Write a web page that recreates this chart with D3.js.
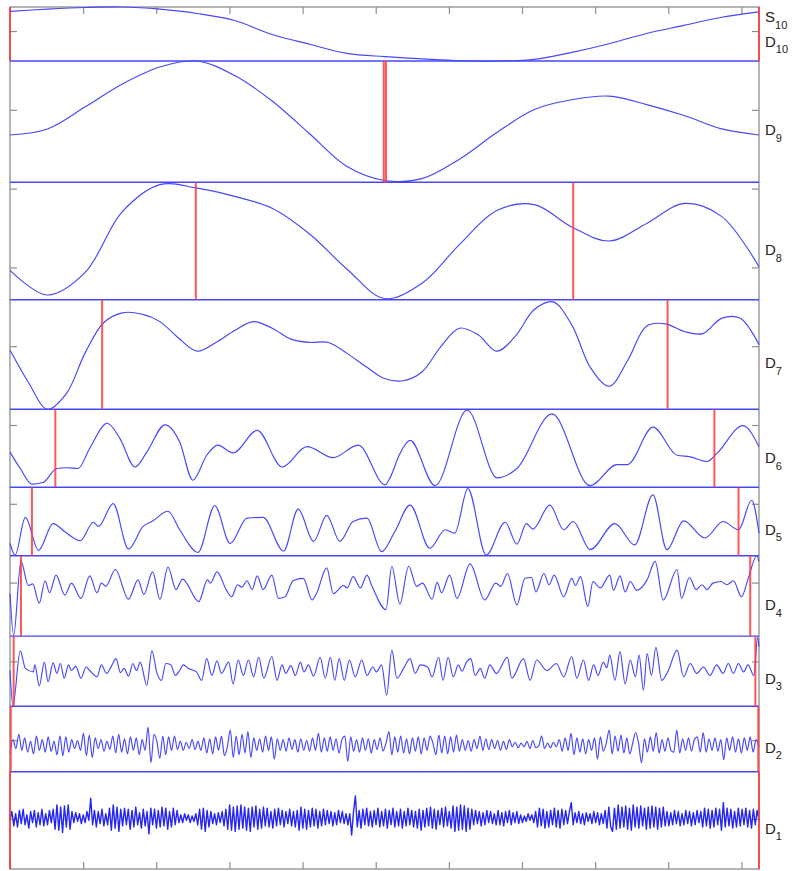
<!DOCTYPE html>
<html lang="en">
<head>
<meta charset="UTF-8">
<title>Wavelet decomposition</title>
<script src="https://d3js.org/d3.v7.min.js"></script>
<style>
  body { margin: 0; background: #fff; }
  .lbl { font-family: "Liberation Sans", Arial, sans-serif; font-size: 15px; fill: #222; }
  .lbl tspan { font-size: 11px; fill: #222; }
</style>
</head>
<body>
<svg id="chart" width="793" height="871"></svg>
<script>
// ---- data ----
// sample index axis runs 0..1024; panels listed top to bottom
const s10Vals = [.92,.96,.99,1.0,.96,.88,.75,.49,.31,.14,.08,.04,.005,0,.03,.16,.32,.51,.66,.81,.91];
const d9Vals  = [.39,.44,.62,.81,.95,1.0,.88,.67,.40,.13,.015,.03,.19,.41,.60,.68,.71,.64,.55,.44,.39];
const d8Vals  = [.25,.04,.23,.75,.98,.95,.88,.78,.56,.26,.01,.14,.47,.76,.81,.62,.50,.65,.82,.71,.28];
const d7Vals  = [.54,.24,0,.14,.51,.79,.88,.87,.80,.65,.53,.61,.72,.80,.74,.64,.61,.61,.51,.39,.28,.26,.34,.57,.74,.68,.53,.67,.91,.98,.77,.38,.21,.45,.76,.78,.71,.69,.83,.83,.59];

const d6X = [0,14,30,45,64,78,93,109,133,150,171,187,212,232,250,269,284,305,338,372,406,442,476,513,520,533,547,581,625,666,693,741,793,830,844,879,912,930,953,967,1002,1024];
const d6Vals = [.45,.24,.04,.06,.24,.25,.24,.5,.82,.63,.26,.45,.8,.58,.09,.41,.54,.44,.73,.26,.52,.38,.54,.03,.13,.43,.6,.02,.99,.12,.24,.94,.02,.29,.29,.77,.41,.39,.33,.44,.79,.52];

const d5X = [0,7,21,39,59,75,96,114,121,141,162,182,194,216,232,257,280,301,324,346,374,394,415,433,451,469,488,508,526,547,574,595,608,626,651,677,693,706,715,738,757,770,793,827,854,879,898,921,950,975,996,1014,1024];
const d5Vals = [.18,.01,.56,.08,.47,.35,.22,.49,.43,.76,.1,.43,.5,.65,.38,.05,.73,.18,.55,.56,.07,.68,.21,.59,.21,.5,.55,.06,.35,.74,.11,.38,.33,.98,.01,.49,.17,.47,.39,.74,.38,.5,.09,.47,.16,.89,.09,.51,.26,.5,.38,.81,.33];

const d4X = [0,5,15,25,31,40,48,54,63,75,84,97,109,119,125,131,144,162,175,183,195,205,216,227,236,258,270,274,283,296,303,311,317,324,331,338,346,358,367,376,387,401,413,419,433,442,456,461,469,479,488,495,514,522,533,545,556,564,577,584,590,601,611,629,649,664,671,680,693,704,713,719,730,737,744,757,768,773,780,790,797,807,820,825,834,841,848,857,871,882,893,912,918,929,938,946,953,961,972,980,989,1000,1009,1021,1024];
const d4Vals = [.53,.01,.93,.63,.65,.41,.69,.54,.76,.51,.66,.47,.75,.54,.66,.62,.83,.46,.7,.52,.8,.46,.86,.58,.71,.43,.7,.66,.8,.57,.49,.64,.61,.69,.58,.75,.58,.76,.47,.49,.69,.72,.45,.53,.85,.53,.63,.6,.74,.6,.76,.62,.33,.87,.4,.87,.62,.66,.46,.67,.54,.76,.47,.9,.45,.66,.62,.78,.39,.72,.73,.55,.78,.64,.76,.49,.72,.63,.74,.37,.68,.6,.76,.57,.75,.55,.68,.57,.7,.93,.45,.83,.47,.73,.58,.64,.58,.66,.68,.64,.69,.49,.71,1.0,.93];

const d3X = [0,4,14,21,32,34,40,47,52,59,64,69,74,80,84,90,97,104,109,119,125,132,139,145,151,156,162,168,173,178,187,194,201,207,213,220,226,232,237,244,255,262,269,276,283,289,299,305,312,319,326,333,340,347,358,365,372,377,384,390,397,402,408,415,424,431,438,444,450,457,464,472,481,488,496,501,508,515,522,
  529,538,547,554,561,571,577,586,592,599,606,613,618,624,630,636,643,649,656,665,680,686,702,711,720,734,747,757,768,775,784,791,798,804,811,816,820,827,834,841,848,855,860,866,871,877,883,891,900,912,921,930,939,948,957,966,975,982,989,996,1003,1009,1017,1022,1024];
const d3Vals = [.51,.01,.79,.54,.49,.59,.29,.63,.35,.62,.47,.61,.4,.59,.51,.57,.4,.56,.51,.42,.59,.47,.58,.68,.48,.54,.43,.61,.51,.63,.3,.79,.47,.37,.61,.59,.44,.51,.59,.54,.49,.37,.68,.44,.65,.47,.63,.32,.66,.44,.66,.42,.7,.4,.71,.37,.59,.47,.58,.44,.63,.49,.59,.43,.7,.4,.7,.37,.68,.37,.66,.42,.66,.44,.56,.49,.59,.16,.8,
  .4,.54,.68,.47,.59,.56,.42,.7,.37,.7,.42,.59,.5,.63,.68,.44,.54,.4,.59,.47,.7,.4,.68,.37,.66,.51,.61,.42,.71,.4,.66,.37,.59,.44,.63,.55,.73,.37,.78,.32,.66,.42,.73,.23,.75,.44,.84,.37,.51,.8,.42,.61,.47,.56,.44,.59,.47,.61,.47,.61,.49,.59,.44,.98,.85];

const d2Vals = [-0.5,0.3,-0.2,0.6,
  -0.3,0.4,-0.4,0.2,-0.5,0.5,-0.3,0.3,-0.4,0.45,-0.35,0.2,
  -0.55,0.5,-0.6,0.45,-0.4, 0.3,-0.2,0.25,-0.3, 0.65,-0.6,0.55,-0.7,0.4,
  -0.2,0.3,-0.35,0.2,-0.25, 0.5,-0.45,0.6,-0.4, 0.35,-0.5,0.45,-0.3,0.4,-0.55,0.3,
  -0.3,1.0,-1.0, 0.6,0.2,-0.75,0.5,-0.55,0.45,-0.3,0.5,
  -0.25,0.2,-0.3,0.15,-0.2,0.3,-0.25,0.2,-0.3, 0.4,-0.45,0.35,-0.5,0.45,-0.3,
  0.5,-0.6,-0.1,0.83,-0.7,0.5,-0.55,0.6,-0.45, 0.75,-0.7,0.4,-0.3,
  0.35,-0.4,0.5,-0.3,0.45,-0.8,0.35,-0.3,
  0.3,-0.35,0.4,-0.25,0.3,-0.4,0.35,-0.3,0.25,-0.35,0.4,-0.3, 0.65,-0.4,
  0.4,-0.35,0.45,-0.3,0.35,-0.45,0.3,0.5,-0.93,
  0.45,-0.35,0.3,-0.4,0.4,-0.3,0.35,-0.45,0.3,-0.25,0.4,-0.35, 0.1,0.75,-0.55,
  0.45,-0.4,0.5,-0.45,0.35,-0.5,0.4,-0.35,0.45,-0.5,0.4,-0.3,
  0.5,0.1,-0.55,0.55,-0.45,0.5,-0.5,0.45,-0.4,0.55,-0.35,
  0.3,-0.3,0.25,-0.35,0.3,-0.2, 0.5,
  -0.3,0.35,-0.25,0.3,-0.2,0.25,-0.3,0.2,-0.25,0.3, -0.1,0.15,-0.15,0.1,-0.1,
  0.2,-0.2,0.25,-0.15,-0.05,0.5,-0.2, 0.1,-0.15,0.15,-0.1, 0.3,-0.35,0.4,-0.3,0.65,
  -0.55,0.4,-0.4,0.35,-0.5,0.3, -0.3,0.4,-0.8,0.45,-0.35, 0.1,0.83,-0.5,0.5,-0.35,
  0.55,-0.45,0.4,-0.5,0.1, 0.7,0.1,-1.0,0.35, -0.4,0.45,-0.35,0.7,-0.45,0.3,
  -0.35,0.4,-0.3,-0.4,0.83, -0.45,0.35,-0.3,0.4,-0.35,0.3,0.45,-0.4, 0.7,
  -0.4,0.35,-0.3,0.4,-0.35, 0.3,-0.83,0.4,-0.3,
  0.45,-0.4,0.35,-0.45,0.4,-0.3,0.45,-0.4,0.3,-0.1];

const d1Vals = [
  -0.1,0.3,-0.35,0.2,-0.4,0.35,-0.25,0.4,-0.3,0.15,-0.45,0.3,-0.2,0.35,-0.4,0.25,-0.3,0.4,-0.35,0.2,
  -0.3,0.35,-0.2,0.4,-0.5,0.6,-0.55,0.5,-0.65,0.55,-0.4,0.6,-0.5,0.3,-0.2,0.25,-0.15,0.2,-0.25,0.15,
  -0.2,0.3,-0.1,0.9,-0.3,0.35,-0.4,0.3,-0.25,0.4,-0.35,0.2,-0.3,0.45,-0.55,0.6,-0.45,0.5,-0.6,0.4,
  -0.35,0.45,-0.3,0.4,-0.5,0.35,-0.4,0.5,-0.3,0.25,-0.45,0.4,-0.35,0.3,-0.71,0.45,-0.3,0.4,-0.45,0.35,
  -0.4,0.5,-0.35,0.45,-0.5,0.3,-0.4,0.45,-0.3,0.35,-0.2,0.15,-0.2,0.2,-0.1,0.15,-0.2,0.1,-0.15,0.2,
  -0.3,0.4,-0.5,0.45,-0.6,0.35,-0.4,0.3,-0.25,0.2,-0.3,0.25,-0.2,0.3,-0.35,0.4,-0.5,0.6,-0.55,0.5,
  -0.6,0.55,-0.5,0.6,-0.45,0.5,-0.55,0.45,-0.6,0.5,-0.4,0.55,-0.5,0.4,-0.45,0.5,-0.35,0.45,-0.4,0.3,
  -0.45,0.4,-0.35,0.45,-0.3,0.35,-0.4,0.3,-0.25,0.4,-0.35,0.3,-0.4,0.35,-0.55,0.5,-0.45,0.4,-0.5,0.35,
  -0.4,0.45,-0.35,0.4,-0.45,0.3,-0.35,0.4,-0.3,0.35,-0.25,0.3,-0.35,0.25,-0.3,0.35,-0.2,0.3,-0.25,0.2,
  -0.3,0.2,-0.76,0.3,1.0,-0.4,0.35,-0.45,0.4,-0.3,0.45,-0.35,0.3,-0.4,0.35,-0.3,0.45,-0.4,0.3,-0.35,
  0.4,-0.45,0.35,-0.3,0.45,-0.4,0.3,-0.35,0.4,-0.45,0.3,-0.35,0.45,-0.3,0.35,-0.4,0.3,-0.45,0.4,-0.55,
  0.35,-0.4,0.45,-0.35,0.5,-0.45,0.4,-0.5,0.35,-0.3,0.45,-0.4,0.5,-0.35,0.3,-0.45,0.55,-0.6,0.5,-0.55,
  0.6,-0.5,0.55,-0.6,0.45,-0.5,0.4,-0.3,0.35,-0.25,0.3,-0.35,0.25,-0.3,0.35,-0.2,0.3,-0.25,0.2,-0.3,
  0.35,-0.3,0.25,-0.35,0.3,-0.2,0.35,-0.3,0.25,-0.2,0.3,-0.25,0.15,-0.2,0.1,-0.15,0.2,-0.1,0.15,-0.2,
  0.3,-0.4,0.45,-0.35,0.4,-0.45,0.3,-0.4,0.35,-0.3,0.45,-0.4,0.35,-0.45,0.4,-0.3,0.35,-0.25,0.3,0.7,
  -0.3,0.25,-0.2,0.3,-0.25,0.2,-0.3,0.25,-0.15,0.2,-0.25,0.3,-0.2,0.25,-0.3,0.2,-0.25,0.35,-0.45,0.5,
  -0.4,-0.6,0.45,-0.5,0.6,-0.45,0.5,-0.4,0.55,-0.5,0.45,-0.55,0.6,-0.4,0.5,-0.45,0.55,-0.35,0.45,-0.5,
  0.5,-0.45,0.55,-0.4,0.5,-0.5,0.45,-0.4,0.5,-0.35,0.3,-0.35,0.25,-0.3,0.35,-0.25,0.3,-0.35,0.2,-0.3,
  0.35,-0.25,0.3,-0.35,0.25,-0.3,0.35,-0.2,0.3,-0.4,0.45,-0.35,0.4,-0.45,0.35,-0.4,0.45,-0.3,0.4,-0.55,
  0.7,-0.4,0.45,-0.35,0.4,-0.45,0.3,-0.4,0.45,-0.35,0.4,-0.3,0.45,-0.4,0.35,-0.45,0.4,-0.3,0.35,-0.1];

// boundary markers (sample index, left / right) per panel
const edgeMarks = [[0,1024],[511,514],[254,770],[126,899],[62,963],[30,996],[15,1012],[5,1019],[1,1023],[0,1024]];
const labels = [["S","10"],["D","9"],["D","8"],["D","7"],["D","6"],["D","5"],["D","4"],["D","3"],["D","2"],["D","1"]];

// ---- layout ----
const svg = d3.select("#chart");
const nSamp = 1024;
const x = d3.scaleLinear().domain([0, nSamp]).range([10, 759]);
const y = d3.scaleLinear().domain([-0.635, 10.305]).range([869, 7]);
// panel edges in y-axis units, top to bottom
const bandEdges = [10.305, 9.62, 8.08, 6.59, 5.20, 4.21, 3.34, 2.32, 1.43, 0.60, -0.635];
const labelY = [10.114, 8.68, 7.157, 5.72, 4.514, 3.604, 2.652, 1.713, 0.841, -0.19];

const uni = v => v.map((_, i) => i * nSamp / (v.length - 1));
const smooth = d3.curveCatmullRom.alpha(0.5);
const panels = [
  { xs: uni(s10Vals), vs: s10Vals, dom: [0, 1], curve: smooth },
  { xs: uni(d9Vals), vs: d9Vals, dom: [0, 1], curve: smooth },
  { xs: uni(d8Vals), vs: d8Vals, dom: [0, 1], curve: smooth },
  { xs: uni(d7Vals), vs: d7Vals, dom: [0, 1], curve: smooth },
  { xs: d6X, vs: d6Vals, dom: [0, 1], curve: d3.curveMonotoneX },
  { xs: d5X, vs: d5Vals, dom: [0, 1], curve: d3.curveMonotoneX },
  { xs: d4X, vs: d4Vals, dom: [0, 1], curve: d3.curveMonotoneX },
  { xs: d3X, vs: d3Vals, dom: [0, 1], curve: d3.curveMonotoneX },
  { xs: uni(d2Vals), vs: d2Vals, dom: [-1.5, 2.17], curve: d3.curveMonotoneX },
  { xs: uni(d1Vals), vs: d1Vals, dom: [-2.3, 2.1], curve: d3.curveLinear, dense: true }
];

const blue = "#4646ff", red = "#ff3a3a", grey = "#8e8e8e";

// axes: ticks only, pointing inward
const noLbl = () => "";
const xTicks = d3.range(0, nSamp + 1, 100);
const yTicks = d3.range(0, 11);
svg.append("g").attr("transform", `translate(0,${y.range()[1]})`)
  .call(d3.axisTop(x).tickValues(xTicks).tickSizeInner(-7).tickSizeOuter(0).tickFormat(noLbl));
svg.append("g").attr("transform", `translate(0,${y.range()[0]})`)
  .call(d3.axisBottom(x).tickValues(xTicks).tickSizeInner(-7).tickSizeOuter(0).tickFormat(noLbl));
svg.append("g").attr("transform", `translate(${x.range()[0]},0)`)
  .call(d3.axisLeft(y).tickValues(yTicks).tickSizeInner(-7).tickSizeOuter(0).tickFormat(noLbl));
svg.append("g").attr("transform", `translate(${x.range()[1]},0)`)
  .call(d3.axisRight(y).tickValues(yTicks).tickSizeInner(-7).tickSizeOuter(0).tickFormat(noLbl));
svg.selectAll(".domain").remove();
svg.selectAll(".tick line").attr("stroke", grey).attr("stroke-width", 1.2);

svg.append("rect")
  .attr("x", x.range()[0]).attr("y", y.range()[1])
  .attr("width", x.range()[1] - x.range()[0]).attr("height", y.range()[0] - y.range()[1])
  .attr("fill", "none").attr("stroke", grey).attr("stroke-width", 1.3);

// panel separators
svg.selectAll(".sep").data(bandEdges.slice(1, -1)).enter().append("line")
  .attr("class", "sep")
  .attr("x1", x(0)).attr("x2", x(nSamp))
  .attr("y1", d => y(d)).attr("y2", d => y(d))
  .attr("stroke", blue).attr("stroke-width", 1.4);

panels.forEach((p, i) => {
  const top = y(bandEdges[i]), bot = y(bandEdges[i + 1]);
  const vy = d3.scaleLinear().domain(p.dom).range([bot, top]);
  const line = d3.line().x(d => x(d[0])).y(d => vy(d[1])).curve(p.curve);
  svg.append("path")
    .datum(p.xs.map((t, k) => [t, p.vs[k]]))
    .attr("d", line)
    .attr("fill", "none")
    .attr("stroke", p.dense ? "#2424f5" : blue)
    .attr("stroke-width", p.dense ? 1.4 : 1.15)
    .attr("stroke-linejoin", "round");

  svg.selectAll(".mark" + i).data(edgeMarks[i]).enter().append("line")
    .attr("class", "mark" + i)
    .attr("x1", d => x(d)).attr("x2", d => x(d))
    .attr("y1", top).attr("y2", bot)
    .attr("stroke", red).attr("stroke-width", 2).attr("opacity", 0.85);
});

// right-hand labels
const lab = svg.selectAll(".lbl").data(labels).enter().append("text")
  .attr("class", "lbl")
  .attr("x", 765)
  .attr("y", (d, i) => y(labelY[i]))
  .text(d => d[0]);
lab.append("tspan").attr("dy", 6.5).text(d => d[1]);

svg.append("text").attr("class", "lbl").attr("x", 765).attr("y", y(9.80))
  .text("D").append("tspan").attr("dy", 6.5).text("10");
</script>
</body>
</html>
